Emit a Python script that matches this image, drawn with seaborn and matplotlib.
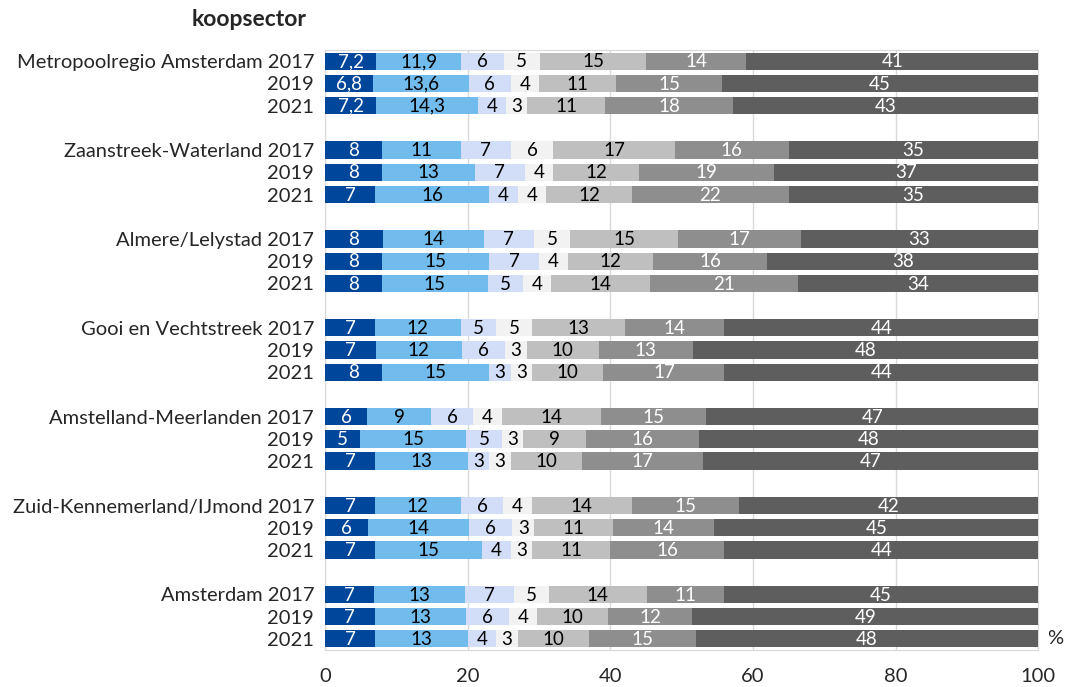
import numpy as np
import pandas as pd
import seaborn as sns
import matplotlib.pyplot as plt

# regions (top to bottom) and years
regions = ['Metropoolregio Amsterdam', 'Zaanstreek-Waterland', 'Almere/Lelystad',
           'Gooi en Vechtstreek', 'Amstelland-Meerlanden', 'Zuid-Kennemerland/IJmond',
           'Amsterdam']
years = ['2017', '2019', '2021']

# seven segments per bar, shares in %
metropoolregio = [[7.2, 11.9, 6, 5, 15, 14, 41],
                  [6.8, 13.6, 6, 4, 11, 15, 45],
                  [7.2, 14.3, 4, 3, 11, 18, 43]]
zaanstreek = [[8, 11, 7, 6, 17, 16, 35],
              [8, 13, 7, 4, 12, 19, 37],
              [7, 16, 4, 4, 12, 22, 35]]
almere = [[8, 14, 7, 5, 15, 17, 33],
          [8, 15, 7, 4, 12, 16, 38],
          [8, 15, 5, 4, 14, 21, 34]]
gooi = [[7, 12, 5, 5, 13, 14, 44],
        [7, 12, 6, 3, 10, 13, 48],
        [8, 15, 3, 3, 10, 17, 44]]
amstelland = [[6, 9, 6, 4, 14, 15, 47],
              [5, 15, 5, 3, 9, 16, 48],
              [7, 13, 3, 3, 10, 17, 47]]
zuid_kennemerland = [[7, 12, 6, 4, 14, 15, 42],
                     [6, 14, 6, 3, 11, 14, 45],
                     [7, 15, 4, 3, 11, 16, 44]]
amsterdam = [[7, 13, 7, 5, 14, 11, 45],
             [7, 13, 6, 4, 10, 12, 49],
             [7, 13, 4, 3, 10, 15, 48]]

colors = ['#00479B', '#71BCEC', '#D2DEF7', '#F2F2F2', '#BFBFBF', '#8E8E8E', '#5E5E5E']
text_colors = ['white', 'black', 'black', 'black', 'black', 'white', 'white']

sns.set_style('white')
plt.rcParams['font.family'] = ['Lato', 'DejaVu Sans']

groups = [metropoolregio, zaanstreek, almere, gooi, amstelland, zuid_kennemerland, amsterdam]
rows = []
for g, (name, vals) in enumerate(zip(regions, groups)):
    for i, yr in enumerate(years):
        rows.append({'pos': g * 4 + i,
                     'label': f'{name} {yr}' if i == 0 else yr,
                     'vals': vals[i]})
df = pd.DataFrame(rows)
seg = np.array(df['vals'].tolist(), dtype=float)
# 100% stacked: scale each row to a total of 100
share = seg / seg.sum(axis=1, keepdims=True) * 100
cum = share.cumsum(axis=1)

fig, ax = plt.subplots(figsize=(10.66, 6.87), dpi=100)
fig.subplots_adjust(left=0.305, right=0.974, top=0.927, bottom=0.054)

# stacked bars: draw cumulative totals from longest to shortest
for k in range(6, -1, -1):
    d = pd.DataFrame({'x': cum[:, k], 'y': df['pos']})
    sns.barplot(data=d, x='x', y='y', orient='h', native_scale=True,
                color=colors[k], saturation=1, width=0.78, linewidth=0, ax=ax,
                zorder=3)

for r in range(len(df)):
    left = 0
    for k in range(7):
        v = seg[r, k]
        w = share[r, k]
        txt = str(int(v)) if float(v).is_integer() else f'{v:.1f}'.replace('.', ',')
        ax.text(left + w / 2, df['pos'][r] + 0.03, txt, ha='center', va='center',
                color=text_colors[k], fontsize=13.5, zorder=4)
        left += w

ax.set_xlim(0, 100)
ax.set_ylim(26.5, -0.5)
ax.set_xticks([0, 20, 40, 60, 80, 100])
ax.set_yticks(df['pos'])
ax.set_yticklabels(df['label'])
ax.tick_params(axis='y', length=0, pad=8, labelsize=14.5)
ax.tick_params(axis='x', length=0, pad=13, labelsize=14.5)
ax.set_xlabel('')
ax.set_ylabel('')
ax.xaxis.grid(True, color='#D9D9D9', linewidth=1, zorder=0)
ax.set_axisbelow(True)
for s in ax.spines.values():
    s.set_color('#D9D9D9')

fig.text(1055 / 1066, 1 - 638 / 687, '%', ha='center', va='center', fontsize=14.5)
fig.text(307 / 1066, 1 - 20 / 687, 'koopsector', ha='right', va='center',
         fontsize=16.5, fontweight='bold')

fig.savefig('out.png', dpi=100)
